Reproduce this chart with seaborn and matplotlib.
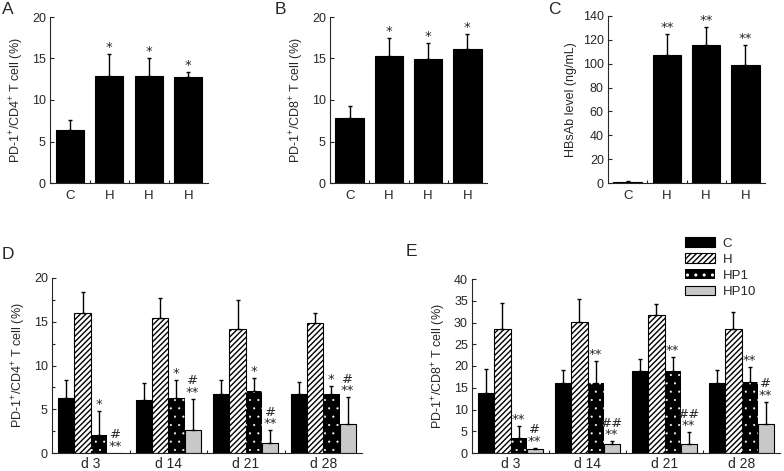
import matplotlib
matplotlib.use("Agg")
from matplotlib import pyplot as plt
from matplotlib.patches import Patch
import pandas as pd
import seaborn as sns

### data: top row (A, B, C)
bar_ids = ["C", "H1", "H2", "H3"]
bar_labels = ["C", "H", "H", "H"]

a_mean = [6.4, 12.9, 12.9, 12.8]
a_err = [1.2, 2.7, 2.1, 0.6]
a_sig = ["", "*", "*", "*"]

b_mean = [7.8, 15.3, 14.9, 16.1]
b_err = [1.5, 2.2, 2.0, 1.9]
b_sig = ["", "*", "*", "*"]

c_mean = [1.1, 107, 115.5, 98.8]
c_err = [0.3, 18, 15.5, 17]
c_sig = ["", "**", "**", "**"]

### data: bottom row (D, E)
days = ["d 3", "d 14", "d 21", "d 28"]
groups = ["C", "H", "HP1", "HP10"]

d_mean = {
    "C": [6.3, 6.1, 6.8, 6.8],
    "H": [16.0, 15.4, 14.2, 14.9],
    "HP1": [2.05, 6.3, 7.1, 6.8],
    "HP10": [0.0, 2.6, 1.1, 3.35],
}
d_err = {
    "C": [2.0, 1.9, 1.5, 1.3],
    "H": [2.4, 2.3, 3.3, 1.1],
    "HP1": [2.7, 2.1, 1.5, 0.9],
    "HP10": [0.0, 3.6, 1.5, 3.0],
}
d_sig = {
    "C": ["", "", "", ""],
    "H": ["", "", "", ""],
    "HP1": ["*", "*", "*", "*"],
    "HP10": ["#\n**", "#\n**", "#\n**", "#\n**"],
}

e_mean = {
    "C": [13.7, 16.0, 18.9, 16.0],
    "H": [28.6, 30.1, 31.8, 28.6],
    "HP1": [3.4, 16.0, 18.9, 16.3],
    "HP10": [0.84, 2.1, 2.1, 6.7],
}
e_err = {
    "C": [5.7, 3.0, 2.8, 3.1],
    "H": [5.8, 5.3, 2.5, 3.9],
    "HP1": [2.7, 5.1, 3.1, 3.5],
    "HP10": [0.4, 0.6, 2.7, 5.1],
}
e_sig = {
    "C": ["", "", "", ""],
    "H": ["", "", "", ""],
    "HP1": ["**", "**", "**", "**"],
    "HP10": ["#\n**", "##\n**", "##\n**", "#\n**"],
}

### style
sns.set_style("ticks")
plt.rcParams["font.family"] = ["Liberation Sans", "DejaVu Sans"]
plt.rcParams["mathtext.fontset"] = "custom"
plt.rcParams["mathtext.rm"] = "Liberation Sans"
plt.rcParams["mathtext.it"] = "Liberation Sans:italic"
plt.rcParams["mathtext.bf"] = "Liberation Sans:bold"
plt.rcParams["hatch.linewidth"] = 1.0
plt.rcParams["axes.linewidth"] = 0.8

FS = 9
group_style = {
    "C": dict(facecolor="black", edgecolor="black", hatch=None),
    "H": dict(facecolor="white", edgecolor="black", hatch="//////"),
    "HP1": dict(facecolor="black", edgecolor="white", hatch="..", linewidth=0, hatch_lw=0.3),
    "HP10": dict(facecolor="#c8c8c8", edgecolor="black", hatch=None),
}

W, H = 784, 471
fig = plt.figure(figsize=(W / 100, H / 100), dpi=100)


def px_axes(x0, y0, x1, y1):
    return fig.add_axes([x0 / W, 1 - y1 / H, (x1 - x0) / W, (y1 - y0) / H])


def style_patch(p, st):
    p.set_facecolor(st["facecolor"])
    p.set_edgecolor(st["edgecolor"])
    if st["hatch"]:
        p.set_hatch(st["hatch"])
    if "linewidth" in st:
        p.set_linewidth(st["linewidth"])
    if "hatch_lw" in st and hasattr(p, "set_hatch_linewidth"):
        p.set_hatch_linewidth(st["hatch_lw"])


def add_err_and_sig(ax, bars, errs, sigs):
    for bar, e, s in zip(bars, errs, sigs):
        x = bar.get_x() + bar.get_width() / 2
        top = bar.get_height()
        if e > 0:
            ax.errorbar([x], [top], yerr=[[0], [e]], fmt="none", ecolor="black",
                        elinewidth=1.0, capsize=1.6, capthick=1.0)
        if s:
            ax.annotate(s, (x, top + e), xytext=(0, 0), textcoords="offset points",
                        ha="center", va="bottom", fontsize=9.5, linespacing=0.85,
                        family="DejaVu Sans")


def finish_axes(ax, ylim, step, ylabel, labels, xfs, minor_y=None):
    ax.set_ylim(*ylim)
    ax.set_yticks(range(ylim[0], ylim[1] + 1, step))
    if minor_y:
        ax.set_yticks([v + minor_y for v in range(ylim[0], ylim[1], step)], minor=True)
    ax.set_xlim(-0.5, len(labels) - 0.5)
    ax.set_xticks(range(len(labels)), labels)
    ax.set_xticks([i + 0.5 for i in range(len(labels) - 1)], minor=True)
    ax.tick_params(axis="x", which="major", length=0, pad=5, labelsize=xfs)
    ax.tick_params(axis="x", which="minor", direction="in", length=2, width=0.8)
    ax.tick_params(axis="y", which="major", direction="in", length=3, width=0.8, pad=3, labelsize=FS)
    ax.tick_params(axis="y", which="minor", direction="in", length=2, width=0.8)
    ax.set_xlabel("")
    ax.set_ylabel(ylabel, fontsize=FS, labelpad=4)
    sns.despine(ax=ax)


### top row
top_panels = [
    ((50, 17, 208, 183), a_mean, a_err, a_sig, (0, 20), 5, "PD-1$^{+}$/CD4$^{+}$ T cell (%)"),
    ((330, 17, 487, 183), b_mean, b_err, b_sig, (0, 20), 5, "PD-1$^{+}$/CD8$^{+}$ T cell (%)"),
    ((608, 16, 765, 183), c_mean, c_err, c_sig, (0, 140), 20, "HBsAb level (ng/mL)"),
]
for box, mean, err, sig, ylim, step, ylabel in top_panels:
    ax = px_axes(*box)
    df = pd.DataFrame({"grp": bar_ids, "val": mean})
    sns.barplot(data=df, x="grp", y="val", color="black", saturation=1, width=0.72,
                errorbar=None, edgecolor="black", linewidth=0.8, ax=ax)
    add_err_and_sig(ax, ax.containers[0], err, sig)
    finish_axes(ax, ylim, step, ylabel, bar_labels, FS + 0.5)

### bottom row
bottom_panels = [
    ((52, 278, 362, 453), d_mean, d_err, d_sig, (0, 20), 5, "PD-1$^{+}$/CD4$^{+}$ T cell (%)", 2.5),
    ((472, 279, 780, 453), e_mean, e_err, e_sig, (0, 40), 5, "PD-1$^{+}$/CD8$^{+}$ T cell (%)", None),
]
for box, mean, err, sig, ylim, step, ylabel, minor in bottom_panels:
    ax = px_axes(*box)
    rows = [(d, g, mean[g][i]) for g in groups for i, d in enumerate(days)]
    df = pd.DataFrame(rows, columns=["day", "group", "value"])
    sns.barplot(data=df, x="day", y="value", hue="group", hue_order=groups, order=days,
                palette={g: group_style[g]["facecolor"] for g in groups}, saturation=1,
                width=0.84, gap=0, errorbar=None, legend=False,
                edgecolor="black", linewidth=0.8, ax=ax)
    for cont, g in zip(ax.containers, groups):
        for bar in cont:
            style_patch(bar, group_style[g])
        add_err_and_sig(ax, cont, err[g], sig[g])
    finish_axes(ax, ylim, step, ylabel, days, FS + 1, minor_y=minor)
    ax.tick_params(axis="x", which="major", pad=3)
    if mean is e_mean:
        handles = []
        for g in groups:
            p = Patch(label=g, linewidth=0.8)
            style_patch(p, group_style[g])
            handles.append(p)
        ax.legend(handles=handles, loc="upper left", bbox_to_anchor=(0.69, 1.24),
                  frameon=False, fontsize=FS + 0.5, handlelength=2.3, handleheight=0.75,
                  handletextpad=0.6, labelspacing=0.28, borderpad=0, borderaxespad=0)

### panel letters
for letter, x, y in [("A", 2, 14), ("B", 275, 14), ("C", 548, 14), ("D", 2, 259), ("E", 406, 256)]:
    fig.text(x / W, 1 - y / H, letter, fontsize=12.5, ha="left", va="baseline")

fig.savefig("out.png", dpi=100)
